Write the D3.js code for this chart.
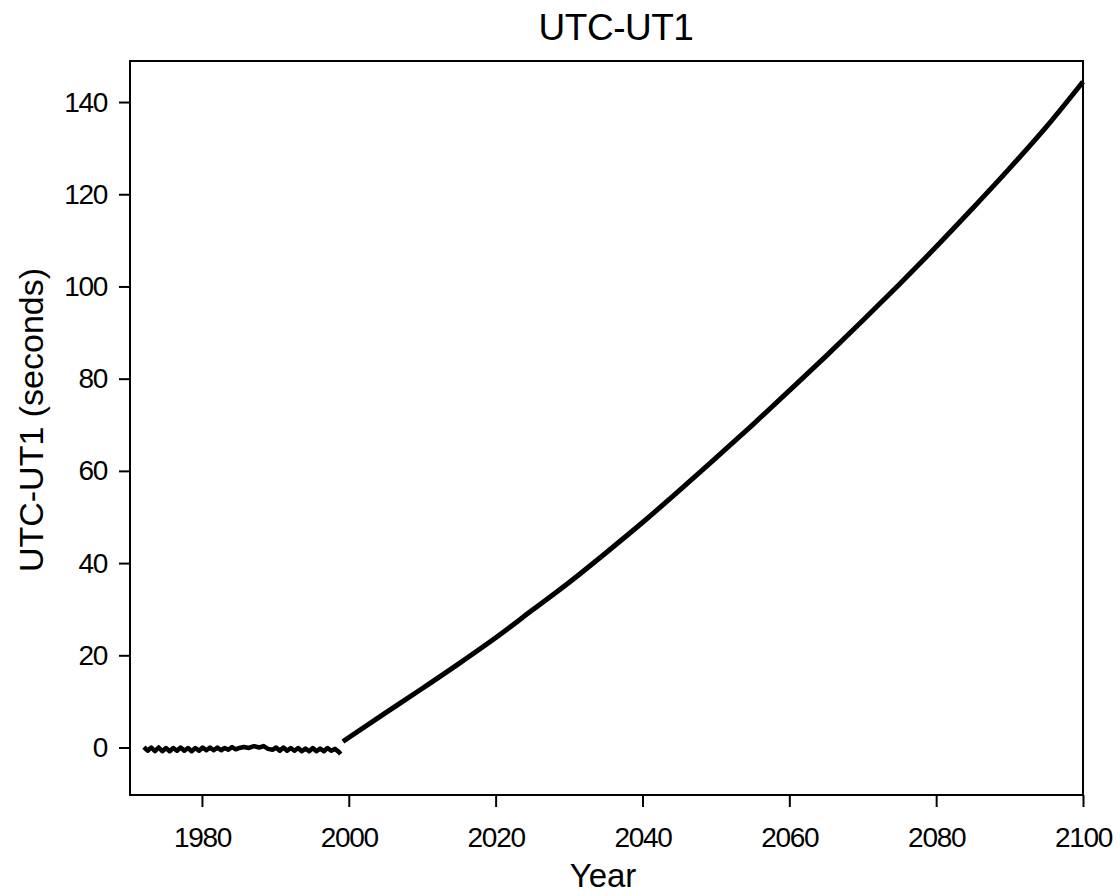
<!DOCTYPE html>
<html>
<head>
<meta charset="utf-8">
<script src="https://cdn.jsdelivr.net/npm/d3@7"></script>
<style>
  body { margin: 0; background: #fff; }
  text { font-family: "Liberation Sans", Arial, sans-serif; fill: #000; }
</style>
</head>
<body>
<svg id="chart" width="1120" height="896"></svg>
<script>
// measured UTC-UT1 (leap second sawtooth), 1972-1999
const sawYears = [1972.1, 1972.6, 1973.1, 1973.6, 1974.1, 1974.6, 1975.1, 1975.6, 1976.1, 1976.6,
  1977.1, 1977.6, 1978.1, 1978.6, 1979.1, 1979.6, 1980.1, 1980.6, 1981.1, 1981.6,
  1982.1, 1982.6, 1983.1, 1983.6, 1984.1, 1984.6, 1985.1, 1985.7, 1986.4, 1987.1,
  1987.8, 1988.4, 1989.0, 1989.6, 1990.1, 1990.6, 1991.1, 1991.6, 1992.1, 1992.6,
  1993.1, 1993.6, 1994.1, 1994.6, 1995.1, 1995.6, 1996.1, 1996.6, 1997.1, 1997.6,
  1998.1, 1998.6, 1998.9];
const sawValues = [0.1, -0.7, 0.0, -0.8, 0.0, -0.8, -0.1, -0.8, -0.1, -0.7,
  0.0, -0.7, -0.1, -0.8, -0.1, -0.7, 0.0, -0.6, 0.0, -0.6,
  0.0, -0.6, -0.1, -0.5, 0.1, -0.4, -0.1, 0.1, -0.1, 0.3,
  0.0, 0.3, -0.3, -0.5, 0.0, -0.7, 0.0, -0.7, -0.1, -0.7,
  -0.1, -0.8, -0.2, -0.8, -0.1, -0.8, -0.2, -0.8, -0.1, -0.7,
  -0.3, -0.9, -1.4];

// predicted UTC-UT1, 1999-2100
const predYears = [1999.2, 2005, 2010, 2015, 2020, 2025, 2030, 2035, 2040, 2045,
  2050, 2055, 2060, 2065, 2070, 2075, 2080, 2085, 2090, 2095, 2100];
const predValues = [1.3, 7.5, 12.8, 18.2, 23.8, 29.8, 35.8, 42.2, 48.8, 55.7,
  62.8, 70.0, 77.4, 84.9, 92.6, 100.5, 108.6, 117.0, 125.6, 134.6, 144.4];

const xTicks = [1980, 2000, 2020, 2040, 2060, 2080, 2100];
const yTicks = [0, 20, 40, 60, 80, 100, 120, 140];

const margin = {top: 61, right: 37, bottom: 101, left: 130};
const width = 1120 - margin.left - margin.right;
const height = 896 - margin.top - margin.bottom;

const svg = d3.select('#chart');
const g = svg.append('g').attr('transform', 'translate(' + margin.left + ',' + margin.top + ')');

const x = d3.scaleLinear().domain([1970.2, 2100]).range([0, width]);
const y = d3.scaleLinear().domain([-10.3, 148.9]).range([height, 0]);

// frame
g.append('rect')
    .attr('width', width)
    .attr('height', height)
    .attr('fill', 'none')
    .attr('stroke', '#000')
    .attr('stroke-width', 2);

const xAxis = g.append('g')
    .attr('transform', 'translate(0,' + height + ')')
    .call(d3.axisBottom(x).tickValues(xTicks).tickFormat(d3.format('d')).tickSize(12).tickPadding(20));
const yAxis = g.append('g')
    .call(d3.axisLeft(y).tickValues(yTicks).tickSize(11).tickPadding(12));

[xAxis, yAxis].forEach(a => {
  a.select('.domain').remove();
  a.selectAll('line').attr('stroke', '#000').attr('stroke-width', 2);
  a.selectAll('text')
      .style('font-family', '"Liberation Sans", Arial, sans-serif')
      .style('font-size', '28px')
      .style('letter-spacing', '-1.3px')
      .attr('fill', '#000');
});

const line = d3.line()
    .x(d => x(d[0]))
    .y(d => y(d[1]));

g.append('path')
    .datum(d3.zip(sawYears, sawValues))
    .attr('d', line)
    .attr('fill', 'none')
    .attr('stroke', '#000')
    .attr('stroke-width', 4.5)
    .attr('stroke-linejoin', 'round');

g.append('path')
    .datum(d3.zip(predYears, predValues))
    .attr('d', d3.line().x(d => x(d[0])).y(d => y(d[1])).curve(d3.curveMonotoneX))
    .attr('fill', 'none')
    .attr('stroke', '#000')
    .attr('stroke-width', 5);

// titles
svg.append('text')
    .attr('x', 616)
    .attr('y', 40)
    .attr('text-anchor', 'middle')
    .style('font-size', '37px')
    .style('letter-spacing', '-0.5px')
    .text('UTC-UT1');

svg.append('text')
    .attr('x', 603)
    .attr('y', 887)
    .attr('text-anchor', 'middle')
    .style('font-size', '33px')
    .text('Year');

svg.append('text')
    .attr('transform', 'translate(43,420) rotate(-90)')
    .attr('text-anchor', 'middle')
    .style('font-size', '34px')
    .text('UTC-UT1 (seconds)');
</script>
</body>
</html>
